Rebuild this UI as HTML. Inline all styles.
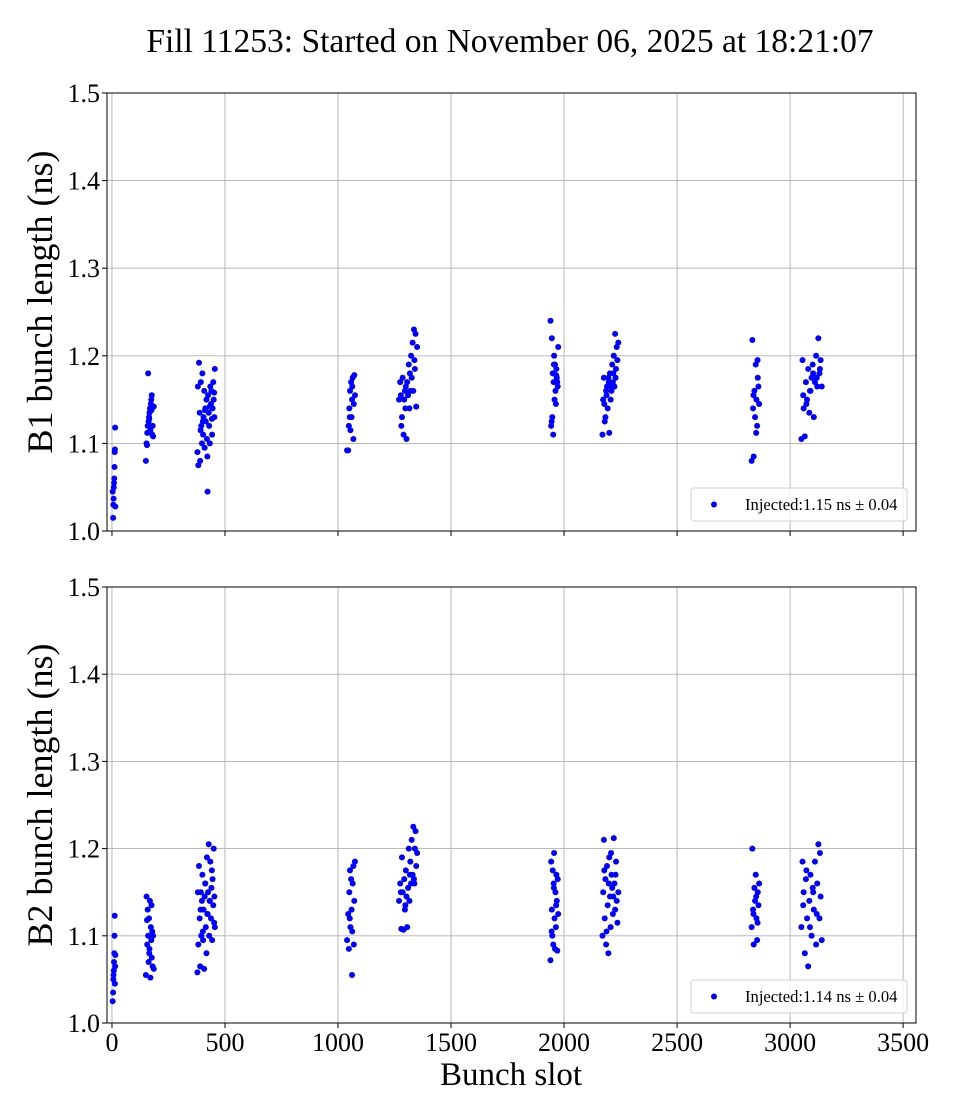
<!DOCTYPE html>
<html><head><meta charset="utf-8"><style>
html,body{margin:0;padding:0;background:#fff;}
svg{display:block;font-family:"Liberation Serif",serif;}
</style></head><body>
<svg id="chart" width="960" height="1120" viewBox="0 0 960 1120">
<text x="510" y="52" font-size="33.5" text-anchor="middle">Fill 11253: Started on November 06, 2025 at 18:21:07</text>
<g id="p1"></g>
<g id="p2"></g>
<text x="511" y="1085" font-size="33" text-anchor="middle">Bunch slot</text>
</svg>
<script>
const xTicks = [0,500,1000,1500,2000,2500,3000,3500];
const yTicks = [1.0,1.1,1.2,1.3,1.4,1.5];
const slots = [3,5,6,7,8,9,10,11,12,13,14,15,
150,153,156,158,160,162,164,166,168,170,172,174,176,178,180,182,155,165,175,185,
378,382,385,388,390,393,395,398,400,403,405,408,410,413,415,418,420,423,425,428,430,433,435,438,440,443,445,448,450,453,455,380,392,402,412,422,432,442,452,
1040,1045,1048,1050,1053,1055,1058,1060,1062,1065,1068,1070,1072,1075,1052,1063,
1270,1275,1280,1283,1286,1290,1293,1296,1300,1303,1306,1310,1313,1316,1320,1323,1326,1330,1333,1336,1340,1343,1346,1350,1278,1298,1318,1338,
1940,1943,1946,1948,1950,1952,1954,1956,1958,1960,1962,1964,1966,1968,1970,1972,1974,1945,1955,1965,
2170,2173,2176,2180,2183,2186,2190,2193,2196,2200,2203,2206,2210,2213,2216,2220,2223,2226,2230,2233,2236,2240,2178,2188,2198,2208,2218,2228,
2830,2833,2836,2839,2842,2845,2848,2851,2854,2857,2860,2863,2838,2850,2856,
3050,3055,3060,3065,3070,3075,3080,3085,3090,3095,3100,3105,3110,3115,3120,3125,3130,3135,3140,3058,3072,3088,3102,3118,3132];
const b1Lengths = [1.045,1.015,1.03,1.037,1.05,1.055,1.06,1.073,1.09,1.093,1.118,1.028,
1.08,1.10,1.112,1.12,1.18,1.125,1.13,1.135,1.14,1.115,1.145,1.15,1.155,1.11,1.12,1.108,1.098,1.128,1.138,1.142,
1.09,1.075,1.192,1.135,1.08,1.17,1.12,1.1,1.18,1.11,1.13,1.16,1.095,1.14,1.125,1.15,1.105,1.045,1.155,1.135,1.12,1.1,1.165,1.145,1.16,1.11,1.14,1.17,1.15,1.13,1.185,1.165,1.115,1.125,1.138,1.085,1.142,1.128,1.158,
1.092,1.092,1.12,1.14,1.16,1.115,1.17,1.13,1.15,1.175,1.105,1.145,1.178,1.155,1.13,1.165,
1.15,1.17,1.12,1.13,1.175,1.11,1.15,1.16,1.165,1.105,1.17,1.155,1.19,1.14,1.16,1.2,1.175,1.215,1.16,1.23,1.185,1.225,1.142,1.21,1.155,1.14,1.18,1.195,
1.24,1.12,1.22,1.13,1.18,1.11,1.17,1.2,1.15,1.19,1.16,1.145,1.185,1.175,1.17,1.165,1.21,1.125,1.19,1.178,
1.11,1.15,1.175,1.125,1.13,1.16,1.165,1.14,1.175,1.112,1.18,1.15,1.16,1.19,1.17,1.2,1.165,1.225,1.185,1.21,1.195,1.215,1.145,1.155,1.17,1.165,1.18,1.175,
1.08,1.218,1.14,1.085,1.16,1.13,1.19,1.15,1.12,1.175,1.165,1.145,1.155,1.112,1.195,
1.105,1.195,1.14,1.108,1.17,1.15,1.185,1.135,1.16,1.175,1.19,1.13,1.17,1.2,1.165,1.22,1.18,1.195,1.165,1.155,1.145,1.16,1.18,1.175,1.185];
const b2Lengths = [1.025,1.035,1.05,1.055,1.06,1.07,1.08,1.10,1.123,1.045,1.065,1.078,
1.055,1.145,1.09,1.13,1.1,1.07,1.12,1.085,1.14,1.052,1.11,1.095,1.075,1.105,1.065,1.1,1.118,1.08,1.135,1.062,
1.058,1.09,1.18,1.12,1.065,1.15,1.1,1.14,1.17,1.095,1.13,1.062,1.145,1.16,1.11,1.08,1.19,1.125,1.15,1.205,1.1,1.14,1.185,1.12,1.155,1.095,1.165,1.135,1.2,1.145,1.11,1.15,1.13,1.105,1.16,1.125,1.14,1.175,1.115,
1.095,1.125,1.085,1.15,1.175,1.11,1.165,1.13,1.055,1.16,1.18,1.09,1.14,1.185,1.12,1.105,
1.14,1.16,1.108,1.19,1.15,1.107,1.165,1.13,1.175,1.145,1.11,1.155,1.2,1.14,1.185,1.16,1.21,1.17,1.225,1.165,1.2,1.22,1.18,1.195,1.15,1.135,1.17,1.16,
1.072,1.185,1.13,1.1,1.175,1.09,1.16,1.195,1.12,1.085,1.15,1.11,1.17,1.14,1.083,1.165,1.125,1.105,1.155,1.135,
1.1,1.15,1.21,1.12,1.165,1.09,1.18,1.135,1.08,1.19,1.145,1.11,1.17,1.155,1.125,1.212,1.16,1.13,1.185,1.14,1.115,1.15,1.175,1.105,1.16,1.195,1.145,1.17,
1.11,1.2,1.13,1.09,1.155,1.14,1.17,1.12,1.095,1.15,1.135,1.16,1.125,1.145,1.115,
1.11,1.185,1.15,1.08,1.165,1.12,1.065,1.14,1.17,1.1,1.155,1.13,1.185,1.09,1.16,1.205,1.12,1.145,1.095,1.135,1.175,1.11,1.15,1.125,1.195];
const legendLabels = ["Injected:1.15 ns \u00b1 0.04","Injected:1.14 ns \u00b1 0.04"];
const yTitles = ["B1 bunch length (ns)","B2 bunch length (ns)"];

const NS='http://www.w3.org/2000/svg';
const L=107,R=916;
const xMin=-22,xMax=3557;
function xs(v){return L+(v-xMin)/(xMax-xMin)*(R-L);}
function mk(tag,attrs,parent){const e=document.createElementNS(NS,tag);for(const k in attrs)e.setAttribute(k,attrs[k]);parent.appendChild(e);return e;}

function panel(g,top,bot,vals,legend,title,showX){
  const ys=v=>bot-(v-1.0)/0.5*(bot-top);
  xTicks.forEach(t=>{
    const l=mk('line',{x1:xs(t),x2:xs(t),y1:top,y2:bot,stroke:'#b0b0b0','stroke-width':0.9},g);
    
    
    const tk=mk('line',{x1:xs(t),x2:xs(t),y1:bot,y2:bot+5,stroke:'#000','stroke-width':1},g);
    
    
    if(showX){
      const tx=mk('text',{x:xs(t),y:bot+28,'font-size':26,'text-anchor':'middle'},g);
      tx.textContent=t;
      
      
    }
  });
  yTicks.forEach(t=>{
    const l=mk('line',{x1:L,x2:R,y1:ys(t),y2:ys(t),stroke:'#b0b0b0','stroke-width':0.9},g);
    
    
    const tk=mk('line',{x1:L-5,x2:L,y1:ys(t),y2:ys(t),stroke:'#000','stroke-width':1},g);
    
    
    const tx=mk('text',{x:L-7,y:ys(t)+9,'font-size':26,'text-anchor':'end'},g);
    tx.textContent=t.toFixed(1);
    
    
  });
  const n=Math.min(slots.length,vals.length);
  for(let i=0;i<n;i++){
    const c=mk('circle',{cx:xs(slots[i]),cy:ys(vals[i]),r:3,fill:'#0000ff'},g);
    
    
  }
  const fr=mk('rect',{x:L,y:top,width:R-L,height:bot-top,fill:'none',stroke:'#000','stroke-width':1},g);
  
  
  const yt=mk('text',{x:0,y:0,'font-size':36,'text-anchor':'middle',transform:`translate(52,${(top+bot)/2-10}) rotate(-90)`},g);
  yt.textContent=title;
  
  
  const lg=mk('g',{},g);
  
  
  mk('rect',{x:691,y:bot-43,width:216,height:33,rx:3,fill:'#fff','fill-opacity':0.8,stroke:'#d0d0d0'},lg);
  mk('circle',{cx:714,cy:bot-26.5,r:3,fill:'#0000ff'},lg);
  const lt=mk('text',{x:745,y:bot-21,'font-size':16.6},lg);
  lt.textContent=legend;
  
  
}
panel(document.getElementById('p1'),93,531,b1Lengths,legendLabels[0],yTitles[0],false);
panel(document.getElementById('p2'),587,1023,b2Lengths,legendLabels[1],yTitles[1],true);
</script>
</body></html>
